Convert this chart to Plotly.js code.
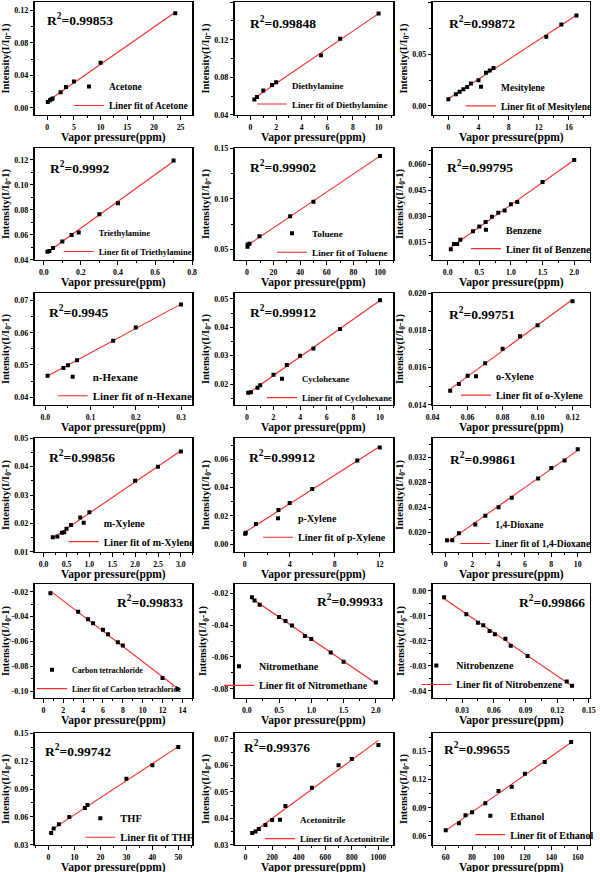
<!DOCTYPE html>
<html><head><meta charset="utf-8">
<script src="https://cdn.plot.ly/plotly-3.0.1.min.js"></script>
<style>html,body{margin:0;padding:0;background:#fff}#chart{width:600px;height:872px}</style>
</head><body><div id="chart"></div>
<script>
// ---------------- data ----------------
const compounds = ['Acetone','Diethylamine','Mesitylene','Triethylamine','Toluene','Benzene',
  'n-Hexane','Cyclohexane','o-Xylene','m-Xylene','p-Xylene','1,4-Dioxane',
  'Carbon tetrachloride','Nitromethane','Nitrobenzene','THF','Acetonitrile','Ethanol'];
const rSquared = ['0.99853','0.99848','0.99872','0.9992','0.99902','0.99795',
  '0.9945','0.99912','0.99751','0.99856','0.99912','0.99861',
  '0.99833','0.99933','0.99866','0.99742','0.99376','0.99655'];
const xTitle = 'Vapor pressure(ppm)';
const yTitle = 'Intensity(I/I<sub>0</sub>-1)';

const acetoneX = [0.1,0.5,0.8,1,2.5,3.5,5,10,24];
const acetoneY = [0.007,0.0092,0.0105,0.0115,0.019,0.0255,0.0325,0.0555,0.1165];
const diethylamineX = [0.3,0.5,1,2,5.5,7,10];
const diethylamineY = [0.0565,0.059,0.066,0.0748,0.1035,0.121,0.148];
const mesityleneX = [0,1,1.5,2,2.5,3,4,5,5.5,6,13,15,17];
const mesityleneY = [0.0065,0.0113,0.0138,0.0161,0.0184,0.0216,0.0248,0.0319,0.0341,0.0367,0.0667,0.0786,0.0873];
const triethylamineX = [0.02,0.03,0.05,0.1,0.15,0.3,0.4,0.7];
const triethylamineY = [0.0465,0.047,0.0494,0.0547,0.0598,0.0765,0.0853,0.1195];
const tolueneX = [0.5,0.6,2,9.5,32.5,50,100];
const tolueneY = [0.0525,0.0548,0.0556,0.063,0.0828,0.097,0.1424];
const benzeneX = [0.05,0.1,0.15,0.2,0.4,0.5,0.6,0.7,0.8,0.9,1.0,1.1,1.5,2.0];
const benzeneY = [0.011,0.014,0.014,0.0165,0.0213,0.024,0.0267,0.0296,0.0319,0.0332,0.0369,0.0381,0.0496,0.0623];
const hexaneX = [0.005,0.04,0.05,0.07,0.15,0.2,0.3];
const hexaneY = [0.0467,0.0491,0.0499,0.0515,0.0575,0.0616,0.0687];
const cyclohexaneX = [0.1,0.3,0.8,1,2,3,4,5,7,10];
const cyclohexaneY = [0.0169,0.0171,0.0187,0.0196,0.0233,0.0267,0.03,0.0325,0.0394,0.0495];
const oXyleneX = [0.05,0.055,0.06,0.07,0.08,0.09,0.10,0.12];
const oXyleneY = [0.01476,0.01512,0.01556,0.01624,0.01701,0.01769,0.01827,0.01956];
const mXyleneX = [0.2,0.3,0.4,0.45,0.5,0.6,0.8,1,2,2.5,3];
const mXyleneY = [0.0151,0.0154,0.0167,0.0169,0.0181,0.0194,0.0221,0.0239,0.035,0.04,0.0453];
const pXyleneX = [0.05,0.1,1,3,4,6,10,12];
const pXyleneY = [0.0075,0.0082,0.0143,0.0242,0.0291,0.039,0.0592,0.0683];
const dioxaneX = [0.1,0.5,1,3,4,5,7,8,9,10];
const dioxaneY = [0.0187,0.0187,0.0198,0.0226,0.024,0.0255,0.0286,0.0303,0.0315,0.0333];
const ccl4X = [0.7,3.5,4.5,5,6,6.5,7.5,8,12,13.5];
const ccl4Y = [-0.0213,-0.036,-0.0421,-0.0453,-0.0506,-0.0541,-0.0605,-0.0632,-0.0893,-0.0981];
const nitromethaneX = [0.08,0.12,0.2,0.5,0.6,0.7,0.9,1.0,1.3,1.5,2.0];
const nitromethaneY = [-0.0225,-0.0246,-0.0273,-0.035,-0.0374,-0.0403,-0.0468,-0.0488,-0.0572,-0.0631,-0.076];
const nitrobenzeneX = [0.013,0.034,0.045,0.05,0.056,0.061,0.071,0.076,0.092,0.129,0.134];
const nitrobenzeneY = [-0.0025,-0.0093,-0.0127,-0.0137,-0.016,-0.0173,-0.0191,-0.022,-0.0261,-0.0363,-0.038];
const thfX = [1,2,4,8,14,15,30,40,50];
const thfY = [0.0428,0.0475,0.0522,0.06,0.0695,0.0728,0.101,0.1155,0.135];
const acetonitrileX = [50,75,100,150,200,300,500,700,800,1000];
const acetonitrileY = [0.0344,0.035,0.0359,0.0375,0.0393,0.0446,0.0515,0.06,0.0624,0.0677];
const ethanolX = [60,70,75,80,90,100,110,120,135,155];
const ethanolY = [0.0661,0.0736,0.0821,0.0853,0.0949,0.108,0.1123,0.1262,0.1387,0.16];

// tick labels for the negative axes (plain hyphen as in the reference)
const ccl4TickVals = [-0.02,-0.04,-0.06,-0.08,-0.10];
const ccl4TickText = ['-0.02','-0.04','-0.06','-0.08','-0.10'];
const nitromethaneTickVals = [-0.02,-0.04,-0.06,-0.08];
const nitromethaneTickText = ['-0.02','-0.04','-0.06','-0.08'];
const nitrobenzeneTickVals = [0,-0.01,-0.02,-0.03,-0.04];
const nitrobenzeneTickText = ['0.00','-0.01','-0.02','-0.03','-0.04'];

// ---------------- layout / style configuration ----------------
const W = 600, H = 872;
const FONT = 'Liberation Serif, "Times New Roman", serif';
const colPx = [[34.5,192.3],[234.5,393.3],[432.5,590]];
const rowPx = [[2,115],[148,260],[293,405],[438,552],[584,698],[733,845]];

const series = [
  [acetoneX, acetoneY],[diethylamineX, diethylamineY],[mesityleneX, mesityleneY],
  [triethylamineX, triethylamineY],[tolueneX, tolueneY],[benzeneX, benzeneY],
  [hexaneX, hexaneY],[cyclohexaneX, cyclohexaneY],[oXyleneX, oXyleneY],
  [mXyleneX, mXyleneY],[pXyleneX, pXyleneY],[dioxaneX, dioxaneY],
  [ccl4X, ccl4Y],[nitromethaneX, nitromethaneY],[nitrobenzeneX, nitrobenzeneY],
  [thfX, thfY],[acetonitrileX, acetonitrileY],[ethanolX, ethanolY]
];

// per panel: x range, y range, x dtick, y dtick, x format, y format, R2 position, legend [textStart, markerY, lineY, size]
const styles = [
  {xr:[-2.4,27.2], yr:[-0.009,0.1305], xd:5, yd:0.04, xf:'', yf:'.2f', r2:[45,20,'left'], leg:[107,90,102,9.5]},
  {xr:[-1.25,11.15], yr:[0.0399,0.1601], xd:2, yd:0.04, xf:'', yf:'.2f', r2:[248,23,'left'], leg:[290,89,100,9]},
  {xr:[-2.1,18.8], yr:[-0.0087,0.1002], xd:4, yd:0.05, xf:'', yf:'.2f', r2:[447,23,'left'], leg:[499,90.7,102,9.5]},
  {xr:[-0.05,0.801], yr:[0.0399,0.1294], xd:0.2, yd:0.02, xf:'.1f', yf:'.2f', r2:[48,167.7,'left'], leg:[96.7,235.7,248.3,8.5]},
  {xr:[-9.3,110], yr:[0.0395,0.1502], xd:20, yd:0.05, xf:'', yf:'.2f', r2:[248,166.7,'left'], leg:[310,237.3,248.3,9.2]},
  {xr:[-0.24,2.25], yr:[0.0048,0.0692], xd:0.5, yd:0.015, xf:'.1f', yf:'.3f', r2:[445,166.7,'left'], leg:[504,233.3,245,10]},
  {xr:[-0.024,0.325], yr:[0.0376,0.0723], xd:0.1, yd:0.01, xf:'.1f', yf:'.2f', r2:[46.7,311.7,'left'], leg:[90.7,379.3,393.3,11]},
  {xr:[-0.93,11.0], yr:[0.0126,0.0521], xd:2, yd:0.01, xf:'', yf:'.2f', r2:[248,311.7,'left'], leg:[300,383.3,393,8.7]},
  {xr:[0.0399,0.130], yr:[0.01399,0.02001], xd:0.02, yd:0.002, xf:'.2f', yf:'.3f', r2:[446.7,313.3,'left'], leg:[494,379,392.3,10]},
  {xr:[-0.2,3.25], yr:[0.0099,0.0501], xd:0.5, yd:0.01, xf:'.1f', yf:'.2f', r2:[46.7,456.7,'left'], leg:[101.7,525,539.3,10]},
  {xr:[-0.9,13.2], yr:[-0.0054,0.075], xd:4, yd:0.02, xf:'', yf:'.2f', r2:[246.7,456.7,'left'], leg:[296,522.3,533.3,10]},
  {xr:[-1.0,10.93], yr:[0.0168,0.0351], xd:2, yd:0.004, xf:'', yf:'.3f', r2:[448.3,458.3,'left'], leg:[493.3,527.7,540.3,9.5]},
  {xr:[-0.9,15], yr:[-0.1053,-0.0138], xd:2, yd:0.02, xf:'', yf:'.2f', yvals:ccl4TickVals, ytext:ccl4TickText, r2:[185,601.7,'right'], leg:[70,674.3,684,7.8]},
  {xr:[-0.19,2.27], yr:[-0.0858,-0.0142], xd:0.5, yd:0.02, xf:'.1f', yf:'.2f', yvals:nitromethaneTickVals, ytext:nitromethaneTickText, r2:[385,600,'right'], leg:[257,670,681.7,10]},
  {xr:[0.002,0.151], yr:[-0.0429,0.0028], xd:0.03, yd:0.01, xf:'.2f', yf:'.2f', yvals:nitrobenzeneTickVals, ytext:nitrobenzeneTickText, r2:[586.7,601.7,'right'], leg:[454.3,669,681,10]},
  {xr:[-5.4,55.4], yr:[0.0299,0.1501], xd:10, yd:0.03, xf:'', yf:'.2f', r2:[43,750,'left'], leg:[118.3,822.3,833.3,10.5]},
  {xr:[-83,1112], yr:[0.0299,0.0722], xd:200, yd:0.01, xf:'', yf:'.2f', r2:[241.7,746.7,'left'], leg:[298,824.3,834,9]},
  {xr:[50,169.3], yr:[0.0504,0.1696], xd:20, yd:0.03, xf:'', yf:'.2f', r2:[441.7,748.3,'left'], leg:[508.3,819.3,831,10]}
];

function linearFit(xs, ys) {
  const n = xs.length;
  let sx = 0, sy = 0, sxx = 0, sxy = 0;
  for (let i = 0; i < n; i++) { sx += xs[i]; sy += ys[i]; sxx += xs[i]*xs[i]; sxy += xs[i]*ys[i]; }
  const b = (n*sxy - sx*sy) / (n*sxx - sx*sx);
  const a = (sy - b*sx) / n;
  const x0 = Math.min(...xs), x1 = Math.max(...xs);
  return {x: [x0, x1], y: [a + b*x0, a + b*x1]};
}

const traces = [];
const layout = {
  width: W, height: H,
  margin: {l:0, r:0, t:0, b:0, autoexpand:false},
  paper_bgcolor: '#fff', plot_bgcolor: '#fff',
  font: {family: FONT, color: '#000', weight: 'bold'},
  showlegend: true,
  annotations: []
};

const axisBase = {
  showline: true, mirror: true, linecolor: '#000', linewidth: 1.2,
  ticks: 'outside', ticklen: 3.5, tickwidth: 1, tickcolor: '#000',
  showgrid: false, zeroline: false, automargin: false,
  tickfont: {family: FONT, size: 8, color: '#000', weight: 'bold'}
};

series.forEach(([xs, ys], i) => {
  const s = styles[i];
  const n = i + 1;
  const row = Math.floor(i / 3), col = i % 3;
  const xKey = n === 1 ? 'xaxis' : 'xaxis' + n;
  const yKey = n === 1 ? 'yaxis' : 'yaxis' + n;
  const xId = n === 1 ? 'x' : 'x' + n;
  const yId = n === 1 ? 'y' : 'y' + n;
  const legId = n === 1 ? 'legend' : 'legend' + n;

  layout[xKey] = Object.assign({}, axisBase, {
    domain: [colPx[col][0]/W, colPx[col][1]/W], anchor: yId,
    range: s.xr, tick0: 0, dtick: s.xd, tickformat: s.xf,
    ticklen: 4, ticklabelstandoff: 0,
    tickfont: {family: FONT, size: 7.8, color: '#000', weight: 'bold'},
    minor: {ticks: 'outside', ticklen: 2, tickwidth: 1, tickcolor: '#000', tick0: 0, dtick: s.xd/2}
  });
  const yAx = Object.assign({}, axisBase, {
    domain: [1 - rowPx[row][1]/H, 1 - rowPx[row][0]/H], anchor: xId,
    range: s.yr, tick0: 0, dtick: s.yd, tickformat: s.yf,
    minor: {ticks: 'outside', ticklen: 2, tickwidth: 1, tickcolor: '#000', tick0: 0, dtick: s.yd/2},
    title: {text: yTitle, font: {family: FONT, size: 10.5, color: '#000', weight: 'bold'}, standoff: 2}
  });
  if (s.yvals) { yAx.tickmode = 'array'; yAx.tickvals = s.yvals; yAx.ticktext = s.ytext; }
  layout[yKey] = yAx;

  const f = linearFit(xs, ys);
  traces.push({
    x: f.x, y: f.y, xaxis: xId, yaxis: yId, mode: 'lines', type: 'scatter',
    name: 'Liner fit of ' + compounds[i], legend: legId, legendrank: 2,
    line: {color: '#ff2a2a', width: 1.1}, hoverinfo: 'skip'
  });
  traces.push({
    x: xs, y: ys, xaxis: xId, yaxis: yId, mode: 'markers', type: 'scatter',
    name: compounds[i], legend: legId, legendrank: 1,
    marker: {symbol: 'square', size: 4, color: '#000'}
  });

  const [tx, my, ly, fs] = s.leg;
  const mid = (my + ly) / 2;
  layout[legId] = {
    x: (tx - 38) / W, xanchor: 'left', y: 1 - (mid - 24) / H, yanchor: 'top',
    bgcolor: 'rgba(0,0,0,0)', borderwidth: 0, itemwidth: 30, tracegroupgap: 0,
    font: {family: FONT, size: fs, color: '#000', weight: 'bold'}
  };

  // x-axis title, centred under each panel
  layout.annotations.push({
    xref: 'paper', yref: 'paper',
    x: (colPx[col][0] + colPx[col][1]) / 2 / W, y: 1 - (rowPx[row][1] + 22) / H,
    xanchor: 'center', yanchor: 'middle', showarrow: false, text: xTitle, borderpad: 0,
    font: {family: FONT, size: 11.5, color: '#000', weight: 'bold'}
  });

  layout.annotations.push({
    xref: 'paper', yref: 'paper', x: s.r2[0]/W, y: 1 - s.r2[1]/H,
    xanchor: s.r2[2], yanchor: 'middle', showarrow: false,
    text: 'R<sup>2</sup>=' + rSquared[i],
    font: {family: FONT, size: 13.5, color: '#000', weight: 'bold'}
  });
});

Plotly.newPlot('chart', traces, layout, {displayModeBar: false, staticPlot: true});
</script>
</body></html>
